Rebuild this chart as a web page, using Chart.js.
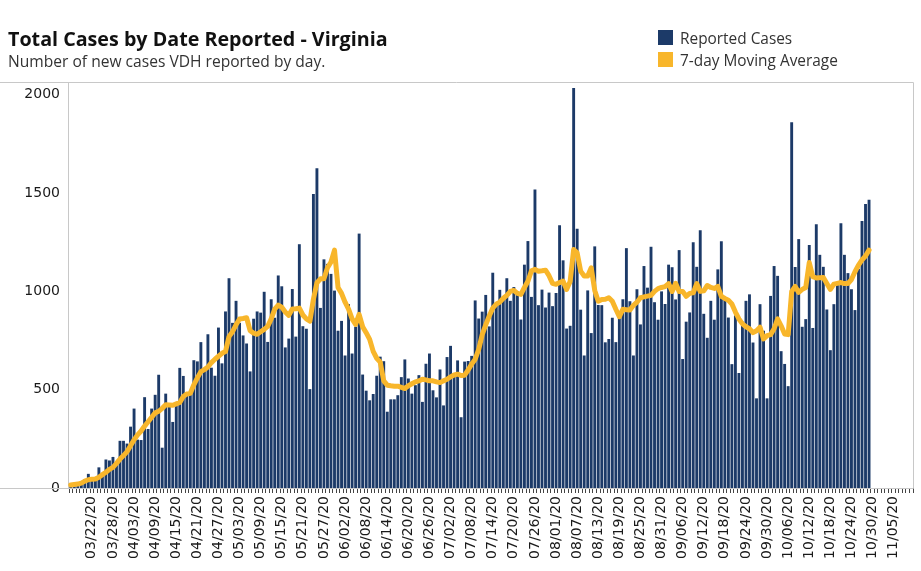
<!DOCTYPE html>
<html><head><meta charset="utf-8">
<script src="https://cdn.jsdelivr.net/npm/chart.js@4/dist/chart.umd.min.js"></script>
<style>
html,body{margin:0;padding:0;background:#fff;width:921px;height:571px;overflow:hidden;}
#wrap{position:relative;width:921px;height:571px;}
canvas{position:absolute;left:0;top:0;}
.t{position:absolute;white-space:nowrap;font-family:'Open Sans',sans-serif;}
.sw{position:absolute;width:15px;height:15px;}
</style></head><body>
<div id="wrap">
<canvas id="c" width="921" height="571"></canvas>
<div class="t" style="left:8px;top:28px;font-size:19.7px;font-weight:700;line-height:22px;color:#111">Total Cases by Date Reported - Virginia</div>
<div class="t" style="left:8px;top:52px;font-size:15.6px;line-height:18px;color:#333">Number of new cases VDH reported by day.</div>
<div class="sw" style="left:658px;top:30px;background:#1c3a68"></div>
<div class="t" style="left:680px;top:30px;font-size:15.4px;line-height:18px;color:#333">Reported Cases</div>
<div class="sw" style="left:658px;top:52px;background:#f8b62b"></div>
<div class="t" style="left:680px;top:52px;font-size:15.4px;line-height:18px;color:#333">7-day Moving Average</div>
</div>
<script>
// ---- data ----
const startDate = [2020, 2, 16];   // 03/16/20
const dayCount = 240;              // axis runs to 11/10/20
const tickLabels = ['03/22/20','03/28/20','04/03/20','04/09/20','04/15/20','04/21/20','04/27/20','05/03/20','05/09/20','05/15/20','05/21/20','05/27/20','06/02/20','06/08/20','06/14/20','06/20/20','06/26/20','07/02/20','07/08/20','07/14/20','07/20/20','07/26/20','08/01/20','08/07/20','08/13/20','08/19/20','08/25/20','08/31/20','09/06/20','09/12/20','09/18/20','09/24/20','09/30/20','10/06/20','10/12/20','10/18/20','10/24/20','10/30/20','11/05/20'];
const yTicks = [0, 500, 1000, 1500, 2000];
const reportedCases = [
5,10,12,25,45,72,48,45,105,60,145,140,158,125,240,240,226,312,404,246,
244,462,300,404,474,576,205,480,432,336,435,611,570,476,488,650,644,742,608,782,
612,571,816,634,898,1067,840,952,840,776,735,593,861,898,892,998,743,960,866,1081,
1026,715,760,1012,770,1240,823,810,503,1496,1627,916,1163,1140,1089,1004,800,850,674,935,
684,820,1294,577,495,446,478,571,668,645,388,451,451,472,564,654,557,480,523,574,
438,632,684,497,461,603,420,666,723,580,649,360,643,646,672,954,862,897,982,822,
1095,941,1008,961,1067,952,1022,1000,857,1136,1256,972,1518,930,1009,918,994,925,992,1336,
1158,811,825,2035,1319,907,674,1005,788,1229,931,930,741,758,866,742,870,960,1220,950,
674,1011,832,1129,1019,1227,945,856,1000,936,1136,1123,959,1210,656,846,893,1250,1125,1311,
886,764,952,856,1112,1255,958,867,630,878,585,846,952,985,740,456,935,800,456,977,
1129,1079,696,631,518,1860,1124,1266,820,859,1236,814,1341,1186,1125,908,701,935,1048,1346,
1186,1093,1011,905,1115,1358,1444,1466
];
const movingAverage = [
15,18,20,25,35,42,45,46,55,68,80,95,105,125,147,165,185,215,245,270,
290,315,337,360,382,390,405,423,422,421,428,435,465,478,482,525,560,592,602,615,
638,655,670,685,694,770,795,830,860,862,866,800,788,782,795,807,822,860,910,930,
920,895,878,910,912,915,880,860,849,960,1044,1064,1064,1120,1150,1210,1020,990,945,910,
860,832,883,820,790,756,695,660,640,545,523,520,518,518,512,506,520,530,540,545,
553,550,545,545,540,536,545,553,565,575,579,572,574,600,630,655,705,780,830,875,
915,935,946,965,980,1000,1005,990,985,1020,1052,1105,1112,1103,1105,1108,1080,1041,1036,1045,
1052,1010,1050,1213,1196,1103,1078,1078,1120,1005,950,959,960,968,950,909,871,909,907,905,
929,945,968,972,976,980,1000,1014,1020,1024,1040,1000,1041,1000,1000,975,990,993,1040,1000,
1003,1030,1020,1015,1025,975,964,955,936,895,860,835,820,810,790,800,818,758,775,780,
810,860,825,783,780,1000,1025,995,1010,1020,1147,1075,1068,1070,1071,1040,1010,1037,1041,1045,
1040,1040,1060,1100,1134,1160,1180,1210
];

// ---- build ----
const pad = n => String(n).padStart(2,'0');
const categories = [];
for (let i = 0; i < dayCount; i++) {
  const d = new Date(startDate[0], startDate[1], startDate[2] + i);
  categories.push(pad(d.getMonth()+1) + '/' + pad(d.getDate()) + '/20');
}
const fill = arr => categories.map((_, i) => i < arr.length ? arr[i] : null);

const frame = {
  id: 'frame',
  beforeDatasetsDraw(chart) {
    const {ctx, chartArea: a} = chart;
    ctx.save();
    ctx.strokeStyle = '#c8c8c8';
    ctx.lineWidth = 1;
    ctx.beginPath();
    ctx.moveTo(0, Math.round(a.top) - 0.5);
    ctx.lineTo(Math.round(a.right) + 0.5, Math.round(a.top) - 0.5);
    ctx.lineTo(Math.round(a.right) + 0.5, Math.round(a.bottom) + 0.5);
    ctx.lineTo(0, Math.round(a.bottom) + 0.5);
    ctx.moveTo(Math.round(a.left) - 0.5, Math.round(a.top));
    ctx.lineTo(Math.round(a.left) - 0.5, Math.round(a.bottom));
    ctx.stroke();
    ctx.restore();
  }
};

new Chart(document.getElementById('c'), {
  data: {
    labels: categories,
    datasets: [
      { type: 'line', label: '7-day Moving Average', data: fill(movingAverage),
        borderColor: '#f8b62b', borderWidth: 5, pointRadius: 0, tension: 0,
        borderJoinStyle: 'round', borderCapStyle: 'round', order: 0 },
      { type: 'bar', label: 'Reported Cases', data: fill(reportedCases),
        backgroundColor: '#1c3a68', borderWidth: 0,
        barPercentage: 0.82, categoryPercentage: 1.0, order: 1 }
    ]
  },
  options: {
    responsive: false, animation: false, devicePixelRatio: 1,
    layout: { padding: { left: 0, right: 8, top: 83, bottom: 0 } },
    plugins: { legend: { display: false }, tooltip: { enabled: false }, title: { display: false } },
    scales: {
      x: {
        type: 'category', offset: true,
        grid: { display: true, drawOnChartArea: false, drawTicks: true, tickLength: 5, tickColor: '#444', color: '#444' },
        border: { display: false },
        ticks: {
          autoSkip: false, minRotation: 90, maxRotation: 90, padding: 3,
          color: '#1a1a1a', font: { family: 'DejaVu Sans', size: 14 },
          callback(v, i) { const l = categories[i]; return tickLabels.includes(l) ? l : ''; }
        },
        afterFit(s) { s.height = 83; s.paddingLeft = 0; s.paddingRight = 0; }
      },
      y: {
        min: 0, max: 2060,
        grid: { display: false, drawTicks: false },
        border: { display: false },
        afterBuildTicks(s) { s.ticks = yTicks.map(v => ({ value: v })); },
        ticks: { autoSkip: false, padding: 9, color: '#1a1a1a',
          font: { family: 'DejaVu Sans', size: 14 },
          callback(v) { return String(v); } },
        afterFit(s) { s.width = 69; s.paddingTop = 0; s.paddingBottom = 0; }
      }
    }
  },
  plugins: [frame]
});
</script>
</body></html>
